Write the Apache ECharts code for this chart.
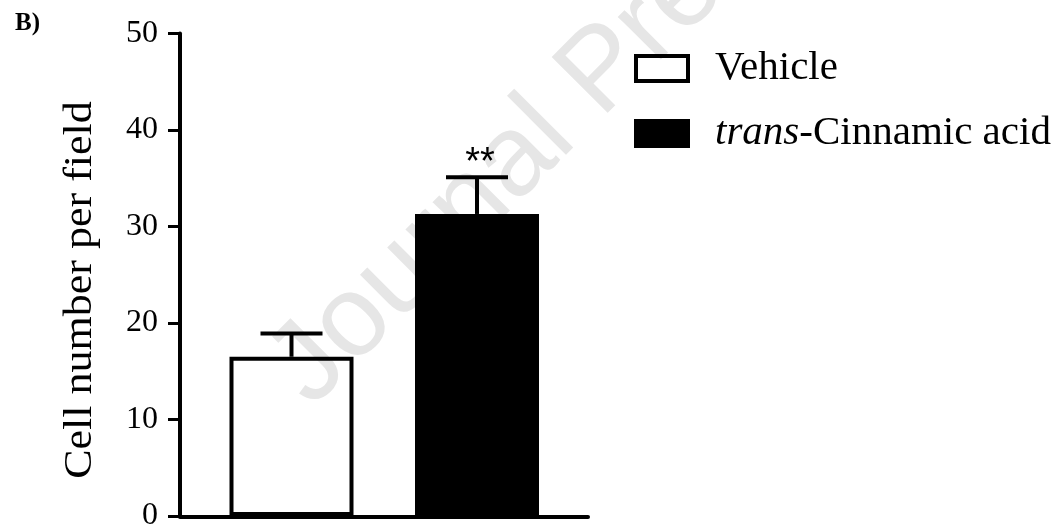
<!DOCTYPE html>
<html>
<head>
<meta charset="utf-8">
<script src="https://cdn.jsdelivr.net/npm/echarts@6/dist/echarts.min.js"></script>
<style>html,body{margin:0;padding:0;background:#fff;}#chart{width:1058px;height:532px;}</style>
</head>
<body>
<div id="chart"></div>
<script>
// ---- data ----
var categories = ['Vehicle', 'trans-Cinnamic acid'];
var means = [16.5, 31.3];
var sems = [2.4, 3.8];
var significance = ['', '**'];
var yTicks = [0, 10, 20, 30, 40, 50];
var yTitle = 'Cell number per field';

var SERIF = '"Liberation Serif", "Times New Roman", serif';
var SANS = '"Liberation Sans", Arial, sans-serif';
var chart = echarts.init(document.getElementById('chart'), null, {renderer: 'canvas'});

var vehicleData = means.map(function (v, i) { return i === 0 ? v : '-'; });
var transData = means.map(function (v, i) { return i === 1 ? v : '-'; });
var errData = means.map(function (m, i) { return [i, m, m + sems[i], significance[i]]; });

var option = {
  backgroundColor: '#ffffff',
  animation: false,
  graphic: [
    {
      type: 'text', x: 330, y: 427, rotation: Math.PI / 4, z: -10,
      style: {text: 'Journal Pre-proof', font: '115px ' + SANS, fill: '#e6e6e6', align: 'left', verticalAlign: 'bottom'}
    },
    {
      type: 'text', left: 15, top: 11,
      style: {text: 'B)', font: 'bold 25px ' + SERIF, fill: '#000'}
    },
    {
      type: 'text', x: 80.5, y: 290, rotation: Math.PI / 2, scaleX: 1.1, scaleY: 1,
      style: {text: yTitle, font: '40px ' + SERIF, fill: '#000', align: 'center', verticalAlign: 'middle'}
    }
  ],
  legend: {
    data: ['Vehicle', 'trans-Cinnamic acid'],
    orient: 'vertical',
    left: 634,
    top: 48,
    padding: 0,
    itemWidth: 52,
    itemHeight: 25,
    itemGap: 24,
    icon: 'rect',
    itemStyle: {borderWidth: 4, borderColor: '#000'},
    formatter: function (name) {
      return name === 'trans-Cinnamic acid' ? '{i|trans}{n|-Cinnamic acid}' : '{n|' + name + '}';
    },
    textStyle: {
      fontFamily: SERIF, fontSize: 41, color: '#000', padding: [0, 0, 0, 22],
      rich: {
        i: {fontFamily: SERIF, fontSize: 41, fontStyle: 'italic', color: '#000'},
        n: {fontFamily: SERIF, fontSize: 41, color: '#000'}
      }
    }
  },
  grid: [
    {left: 198.75, width: 371, top: 33.5, height: 483},
    {left: 180, width: 408, top: 33.5, height: 483}
  ],
  xAxis: [
    {
      type: 'category', gridIndex: 0, data: categories,
      axisLine: {show: false}, axisTick: {show: false}, axisLabel: {show: false}
    },
    {
      type: 'value', gridIndex: 1, min: 0, max: 1,
      axisLine: {show: true, onZero: false, lineStyle: {color: '#000', width: 4}},
      axisTick: {show: false}, axisLabel: {show: false}, splitLine: {show: false}
    }
  ],
  yAxis: [
    {
      type: 'value', gridIndex: 0, min: yTicks[0], max: yTicks[yTicks.length - 1], interval: 10,
      offset: 18.75,
      axisLine: {show: true, lineStyle: {color: '#000', width: 4}},
      axisTick: {show: true, length: 12, lineStyle: {color: '#000', width: 3}},
      axisLabel: {fontFamily: SERIF, fontSize: 32, color: '#000', margin: 22},
      splitLine: {show: false}
    },
    {
      type: 'value', gridIndex: 1, min: 0, max: 50, show: false
    }
  ],
  series: [
    {
      name: 'Vehicle', type: 'bar', xAxisIndex: 0, yAxisIndex: 0,
      data: vehicleData, barWidth: 124, barGap: '-100%',
      itemStyle: {color: 'rgba(255,255,255,0)', borderColor: '#000', borderWidth: 4}
    },
    {
      name: 'trans-Cinnamic acid', type: 'bar', xAxisIndex: 0, yAxisIndex: 0,
      data: transData, barWidth: 124, barGap: '-100%',
      itemStyle: {color: '#000', borderColor: '#000', borderWidth: 4}
    },
    {
      name: 'error', type: 'custom', xAxisIndex: 0, yAxisIndex: 0, z: 5,
      data: errData,
      renderItem: function (params, api) {
        var x = api.value(0);
        var p1 = api.coord([x, api.value(1)]);
        var p2 = api.coord([x, api.value(2)]);
        var half = 31;
        var st = {stroke: '#000', lineWidth: 4};
        var children = [
          {type: 'line', shape: {x1: p1[0], y1: p1[1], x2: p2[0], y2: p2[1]}, style: st},
          {type: 'line', shape: {x1: p2[0] - half, y1: p2[1], x2: p2[0] + half, y2: p2[1]}, style: st}
        ];
        var sig = api.value(3);
        if (sig) {
          children.push({type: 'text', x: p2[0] + 3, y: p2[1] + 5,
            style: {text: sig, font: '38px ' + SANS, fill: '#000', align: 'center', verticalAlign: 'bottom'}});
        }
        return {type: 'group', children: children};
      }
    }
  ]
};
chart.setOption(option);
</script>
</body>
</html>
